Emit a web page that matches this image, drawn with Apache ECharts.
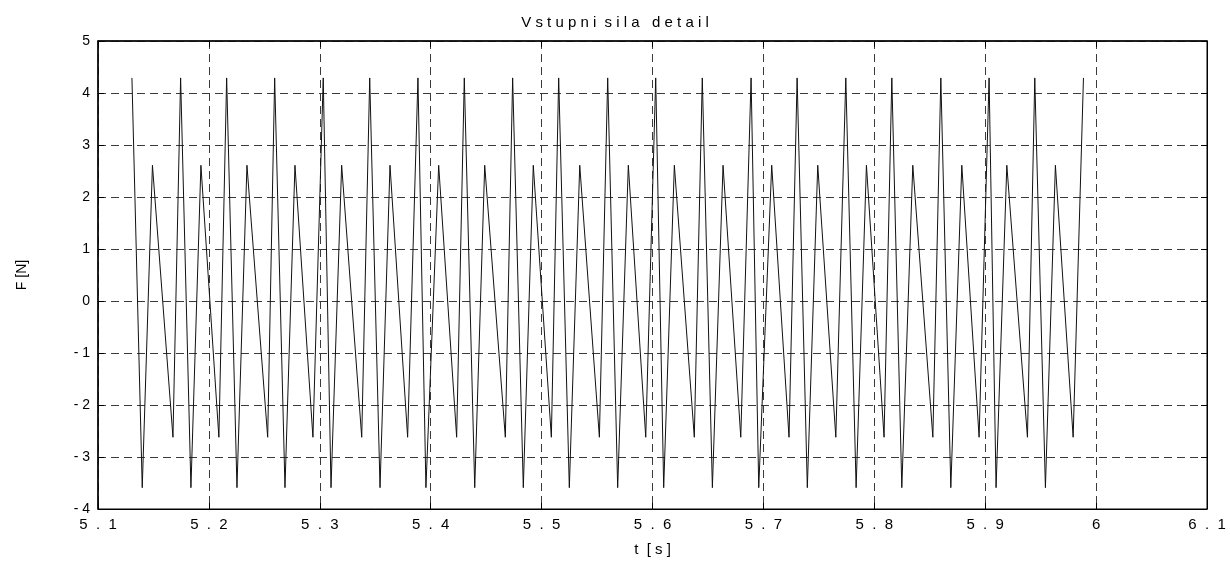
<!DOCTYPE html>
<html>
<head>
<meta charset="utf-8">
<script src="https://cdn.jsdelivr.net/npm/echarts@6/dist/echarts.min.js"></script>
<style>
html,body{margin:0;padding:0;background:#fff;}
#chart{width:1230px;height:562px;}
</style>
</head>
<body>
<div id="chart"></div>
<script>
// time samples [s]
const tValues = [
  5.1306, 5.1399, 5.1491, 5.1676, 5.1745, 5.1838, 5.1928, 5.2090, 5.2160, 5.2253,
  5.2343, 5.2530, 5.2593, 5.2686, 5.2776, 5.2938, 5.3031, 5.3101, 5.3197, 5.3378,
  5.3450, 5.3543, 5.3633, 5.3792, 5.3885, 5.3957, 5.4072, 5.4234, 5.4303, 5.4397,
  5.4487, 5.4673, 5.4739, 5.4835, 5.4925, 5.5088, 5.5154, 5.5250, 5.5344, 5.5521,
  5.5596, 5.5686, 5.5782, 5.5939, 5.6029, 5.6101, 5.6197, 5.6377, 5.6449, 5.6540,
  5.6636, 5.6796, 5.6889, 5.6958, 5.7075, 5.7231, 5.7304, 5.7396, 5.7490, 5.7653,
  5.7743, 5.7836, 5.7929, 5.8088, 5.8158, 5.8248, 5.8347, 5.8528, 5.8600, 5.8690,
  5.8789, 5.8945, 5.9035, 5.9098, 5.9195, 5.9381, 5.9447, 5.9543, 5.9633, 5.9793,
  5.9886
];
// force values [N]
const fValues = [
  4.29, -3.59, 2.61, -2.62, 4.29, -3.59, 2.61, -2.62, 4.29, -3.59,
  2.61, -2.62, 4.29, -3.59, 2.61, -2.62, 4.29, -3.59, 2.61, -2.62,
  4.29, -3.59, 2.61, -2.62, 4.29, -3.59, 2.61, -2.62, 4.29, -3.59,
  2.61, -2.62, 4.29, -3.59, 2.61, -2.62, 4.29, -3.59, 2.61, -2.62,
  4.29, -3.59, 2.61, -2.62, 4.29, -3.59, 2.61, -2.62, 4.29, -3.59,
  2.61, -2.62, 4.29, -3.59, 2.61, -2.62, 4.29, -3.59, 2.61, -2.62,
  4.29, -3.59, 2.61, -2.62, 4.29, -3.59, 2.61, -2.62, 4.29, -3.59,
  2.61, -2.62, 4.29, -3.59, 2.61, -2.62, 4.29, -3.59, 2.61, -2.62,
  4.29
];
const titleText = 'V s t u p n i  s i l a   d e t a i l';
const xName = 't  [ s ]';
const yName = 'F [N]';

const FONT = '"Liberation Sans", Arial, sans-serif';
const data = tValues.map((t, i) => [t, fValues[i]]);

function spaced(str, sep) {
  return str.split('').join(sep);
}
function xFmt(v) {
  let s = (Math.round(v * 10) / 10).toString();
  return spaced(s, '  ');
}
function yFmt(v) {
  let s = Math.round(v).toString();
  return spaced(s, ' ');
}

const chart = echarts.init(document.getElementById('chart'), null, {renderer: 'canvas'});
const gridDash = {color: '#3a3a3a', width: 1, type: [8, 5]};
chart.setOption({
  animation: false,
  backgroundColor: '#fff',
  title: {
    text: titleText,
    left: 'center',
    top: 10,
    textStyle: {fontFamily: FONT, fontSize: 15, fontWeight: 'normal', color: '#000'}
  },
  grid: {
    left: 98, right: 23, top: 41, bottom: 53,
    show: true, borderColor: '#000', borderWidth: 1, backgroundColor: '#fff'
  },
  xAxis: [{
    type: 'value', min: 5.1, max: 6.1, interval: 0.1,
    name: xName, nameLocation: 'middle', nameGap: 33,
    nameTextStyle: {fontFamily: FONT, fontSize: 15, color: '#000'},
    axisLine: {show: true, onZero: false, lineStyle: {color: '#000', width: 1}},
    axisTick: {show: true, inside: true, length: 6, lineStyle: {color: '#000'}},
    axisLabel: {formatter: xFmt, fontFamily: FONT, fontSize: 15, color: '#000', margin: 8,
      showMinLabel: true, showMaxLabel: true},
    splitLine: {show: true, lineStyle: gridDash}
  }, {
    type: 'value', min: 5.1, max: 6.1, interval: 0.1, position: 'top',
    axisLine: {show: true, onZero: false, lineStyle: {color: '#000', width: 1.5}},
    axisTick: {show: true, inside: true, length: 6, lineStyle: {color: '#000'}},
    axisLabel: {show: false},
    splitLine: {show: false}
  }],
  yAxis: [{
    type: 'value', min: -4, max: 5, interval: 1,
    name: yName, nameLocation: 'middle', nameGap: 69, nameRotate: 90,
    nameTextStyle: {fontFamily: FONT, fontSize: 14, color: '#000'},
    axisLine: {show: true, onZero: false, lineStyle: {color: '#000', width: 1.5}},
    axisTick: {show: true, inside: true, length: 6, lineStyle: {color: '#000'}},
    axisLabel: {formatter: yFmt, fontFamily: FONT, fontSize: 14, color: '#000', margin: 8,
      showMinLabel: true, showMaxLabel: true},
    splitLine: {show: true, lineStyle: gridDash}
  }, {
    type: 'value', min: -4, max: 5, interval: 1, position: 'right',
    axisLine: {show: true, onZero: false, lineStyle: {color: '#000', width: 1}},
    axisTick: {show: true, inside: true, length: 6, lineStyle: {color: '#000'}},
    axisLabel: {show: false},
    splitLine: {show: false}
  }],
  series: [{
    type: 'line',
    data: data,
    xAxisIndex: 0,
    yAxisIndex: 0,
    showSymbol: false,
    symbol: 'none',
    lineStyle: {color: '#111', width: 1},
    z: 5
  }]
});
</script>
</body>
</html>
